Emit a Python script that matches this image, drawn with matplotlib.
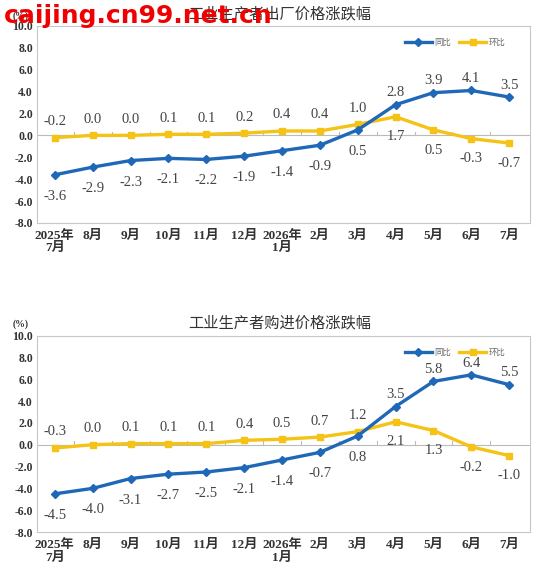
import numpy as np
import matplotlib
matplotlib.use("Agg")
import matplotlib.pyplot as plt

plt.rcParams['font.family'] = ['Liberation Serif', 'Noto Sans CJK SC']
plt.rcParams['axes.unicode_minus'] = False

# data
months = ['2025年\n7月', '8月', '9月', '10月', '11月', '12月', '2026年\n1月',
          '2月', '3月', '4月', '5月', '6月', '7月']
ppi_yoy = [-3.6, -2.9, -2.3, -2.1, -2.2, -1.9, -1.4, -0.9, 0.5, 2.8, 3.9, 4.1, 3.5]
ppi_mom = [-0.2, 0.0, 0.0, 0.1, 0.1, 0.2, 0.4, 0.4, 1.0, 1.7, 0.5, -0.3, -0.7]
ppirm_yoy = [-4.5, -4.0, -3.1, -2.7, -2.5, -2.1, -1.4, -0.7, 0.8, 3.5, 5.8, 6.4, 5.5]
ppirm_mom = [-0.3, 0.0, 0.1, 0.1, 0.1, 0.4, 0.5, 0.7, 1.2, 2.1, 1.3, -0.2, -1.0]

blue = '#1F68B8'
yellow = '#F5C216'
cjk = ['Noto Sans CJK SC', 'DejaVu Sans']

fig = plt.figure(figsize=(5.37, 5.63), dpi=100)
ax1 = fig.add_axes([0.069, 0.604, 0.918, 0.350])
ax2 = fig.add_axes([0.069, 0.055, 0.918, 0.349])


def draw(ax, yoy, mom, title, title_y):
    x = np.arange(len(months))
    ax.plot(x, yoy, color=blue, lw=2.4, marker='D', ms=4, label='同比', zorder=4)
    ax.plot(x, mom, color=yellow, lw=2.4, marker='s', ms=5, label='环比', zorder=3)
    ax.axhline(0, color='#BBBBBB', lw=0.8, zorder=1)
    for b in np.arange(len(months) - 1) + 0.5:
        ax.plot([b, b], [0, 0.35], color='#BBBBBB', lw=0.8, zorder=1)
    # labels: yoy below while mom above, they swap once the lines cross
    cross = next(i for i in range(len(yoy)) if yoy[i] > mom[i])
    for i in x:
        up = i >= cross
        ax.annotate(f'{yoy[i]:.1f}', (i, yoy[i]), textcoords='offset points',
                    xytext=(0, 6 if up else -18), ha='center', fontsize=10.5,
                    color='#444444')
        ax.annotate(f'{mom[i]:.1f}', (i, mom[i]), textcoords='offset points',
                    xytext=(0, -17 if up else 9), ha='center', fontsize=10.5,
                    color='#444444')
    ax.set_xlim(-0.47, len(months) - 0.45)
    ax.set_ylim(-8, 10)
    ax.set_yticks(np.arange(-8, 10.1, 2))
    ax.set_yticklabels([f'{v:.1f}' for v in np.arange(-8, 10.1, 2)],
                       fontsize=8.5, fontweight='bold', color='#333333')
    ax.set_xticks(x)
    ax.set_xticklabels(months, fontsize=9.5, fontweight='bold', color='#333333',
                       linespacing=1.05)
    ax.tick_params(axis='x', length=0, pad=5)
    ax.tick_params(axis='y', length=0, pad=3)
    for s in ax.spines.values():
        s.set_color('#C8C8C8')
        s.set_linewidth(0.8)
    leg = ax.legend(loc='center right', bbox_to_anchor=(0.96, 0.915), ncol=2,
                    frameon=False, prop={'family': cjk, 'size': 6},
                    handlelength=3.2, columnspacing=1.0, handletextpad=0.3,
                    borderpad=0.1)
    for t in leg.get_texts():
        t.set_color('#666666')
    fig.text(0.52, title_y, title, ha='center', va='center', fontsize=11,
             family=cjk, fontweight='medium', color='#333333')
    fig.text(0.038, title_y - 0.003, '(%)', ha='center', va='center', fontsize=7,
             fontweight='bold', color='#333333')


draw(ax1, ppi_yoy, ppi_mom, '工业生产者出厂价格涨跌幅', 0.975)
draw(ax2, ppirm_yoy, ppirm_mom, '工业生产者购进价格涨跌幅', 0.427)

# watermark of the source page
fig.text(0.008, 0.972, 'caijing.cn99.net.cn', ha='left', va='center',
         fontsize=18, fontweight='bold', family='DejaVu Sans',
         color='#F00000', zorder=10)

fig.savefig('out.png', dpi=100)
